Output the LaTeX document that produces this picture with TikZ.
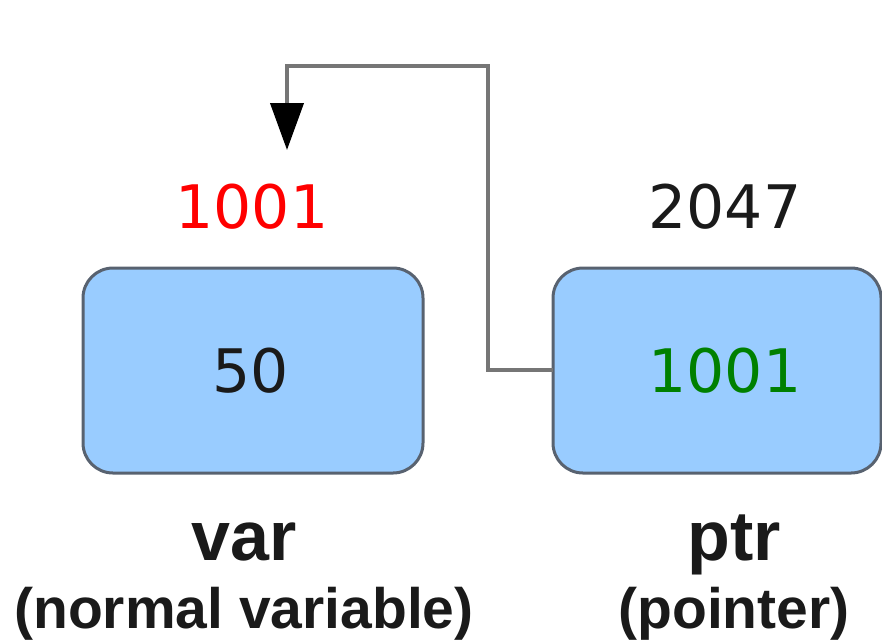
\documentclass[tikz,border=0pt]{standalone}
\usepackage{fontspec}
\setmainfont{DejaVu Sans}
\newfontfamily\labelfont{Liberation Sans}
\usetikzlibrary{arrows.meta}
\definecolor{cellfill}{RGB}{153,204,255}
\definecolor{cellline}{RGB}{88,98,112}
\definecolor{linkgray}{RGB}{118,118,118}
\definecolor{txtdark}{RGB}{26,26,26}
\definecolor{addrred}{RGB}{255,0,0}
\definecolor{valgreen}{RGB}{0,128,0}
\tikzset{
  memcell/.style={draw=cellline, line width=3pt, fill=cellfill, rounded corners=30pt},
  numtext/.style={anchor=base, inner sep=0pt, font=\fontsize{60}{70}\selectfont},
  varname/.style={anchor=base, inner sep=0pt, text=txtdark, font=\labelfont\bfseries\fontsize{70}{80}\selectfont},
  varnote/.style={anchor=base, inner sep=0pt, text=txtdark, font=\labelfont\bfseries\fontsize{57}{66}\selectfont},
  ptrlink/.style={draw=linkgray, line width=4pt},
}
\begin{document}
\begin{tikzpicture}[x=1pt, y=-1pt]
\useasboundingbox (0,0) rectangle (882,641);

% memory cells
\draw[memcell] (83,268) rectangle (423,473);
\draw[memcell] (553,268) rectangle (881,473);
\coordinate (varleft) at (83,370);
\coordinate (ptrleft) at (553,370);

% addresses above the cells
\node[numtext, text=addrred] (addrvar) at (252,228) {1001};
\node[numtext, text=txtdark] (addrptr) at (725,228) {2047};

% stored values
\node[numtext, text=txtdark] (valvar) at (251,392) {50};
\node[numtext, text=valgreen] (valptr) at (725,392) {1001};

% names
\node[varname] (namevar) at (244,560) {var};
\node[varnote] (notevar) at (244,628) {(normal variable)};
\node[varname] (nameptr) at (734,560) {ptr};
\node[varnote] (noteptr) at (734,628) {(pointer)};

% pointer link back to the variable's address
\coordinate (tip) at (287,150);
\draw[ptrlink, -{Triangle[length=47pt, width=33pt, fill=black, color=black]}]
  (ptrleft) -| (488,66) -| (tip);
\end{tikzpicture}
\end{document}
